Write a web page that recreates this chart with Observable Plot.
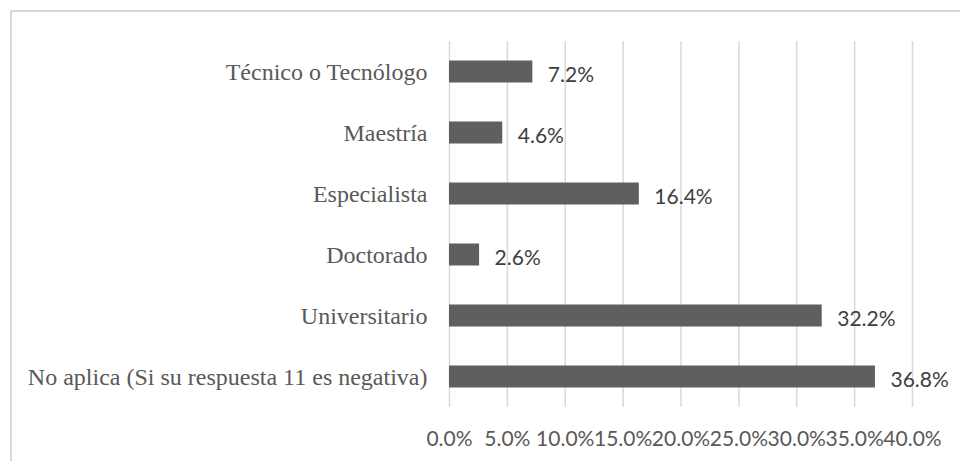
<!DOCTYPE html>
<html>
<head>
<meta charset="utf-8">
<script src="https://cdn.jsdelivr.net/npm/d3@7"></script>
<script src="https://cdn.jsdelivr.net/npm/@observablehq/plot@0.6"></script>
<style>
  html, body { margin: 0; padding: 0; background: #fff; overflow: hidden; }
  #wrap { position: relative; width: 960px; height: 461px; }
  #frame { position: absolute; left: 10px; top: 10px; width: 960px; height: 470px;
           border-top: 2px solid #d9d9d9; border-left: 2px solid #d9d9d9; box-sizing: border-box; }
  #chart { position: absolute; left: 0; top: 0; }
</style>
</head>
<body>
<div id="wrap"><div id="frame"></div><div id="chart"></div></div>
<script>
const categories = [
  "Técnico o Tecnólogo",
  "Maestría",
  "Especialista",
  "Doctorado",
  "Universitario",
  "No aplica (Si su respuesta 11 es negativa)"
];
const values = [0.072, 0.046, 0.164, 0.026, 0.322, 0.368];
const xTicks = [0, 0.05, 0.10, 0.15, 0.20, 0.25, 0.30, 0.35, 0.40];

const data = categories.map((c, i) => ({category: c, value: values[i]}));

const chart = Plot.plot({
  width: 960,
  height: 461,
  marginLeft: 449,
  marginRight: 48,
  marginTop: 41,
  marginBottom: 54,
  style: {background: "transparent"},
  x: {domain: [0, 0.4], ticks: xTicks, tickFormat: d3.format(".1%"), label: null},
  y: {domain: categories, padding: 0, label: null},
  marks: [
    Plot.gridX(xTicks, {stroke: "#d9d9d9", strokeOpacity: 1, strokeWidth: 1.5}),
    Plot.axisX({ticks: xTicks, tickFormat: d3.format(".1%"), tickSize: 0, tickPadding: 24,
      fontFamily: "Lato", fontSize: 21, fill: "#595959", label: null}),
    Plot.axisY({tickSize: 0, tickPadding: 22, fontFamily: "Liberation Serif", fontSize: 24,
      fill: "#595959", label: null}),
    Plot.barX(data, {x: "value", y: "category", fill: "#5f5f5f", insetTop: 19.5, insetBottom: 19.5}),
    Plot.text(data, {x: "value", y: "category", text: d => d3.format(".1%")(d.value),
      dx: 15, dy: 3, textAnchor: "start", fontFamily: "Lato", fontSize: 21, fill: "#404040"})
  ]
});
document.getElementById("chart").appendChild(chart);
</script>
</body>
</html>
